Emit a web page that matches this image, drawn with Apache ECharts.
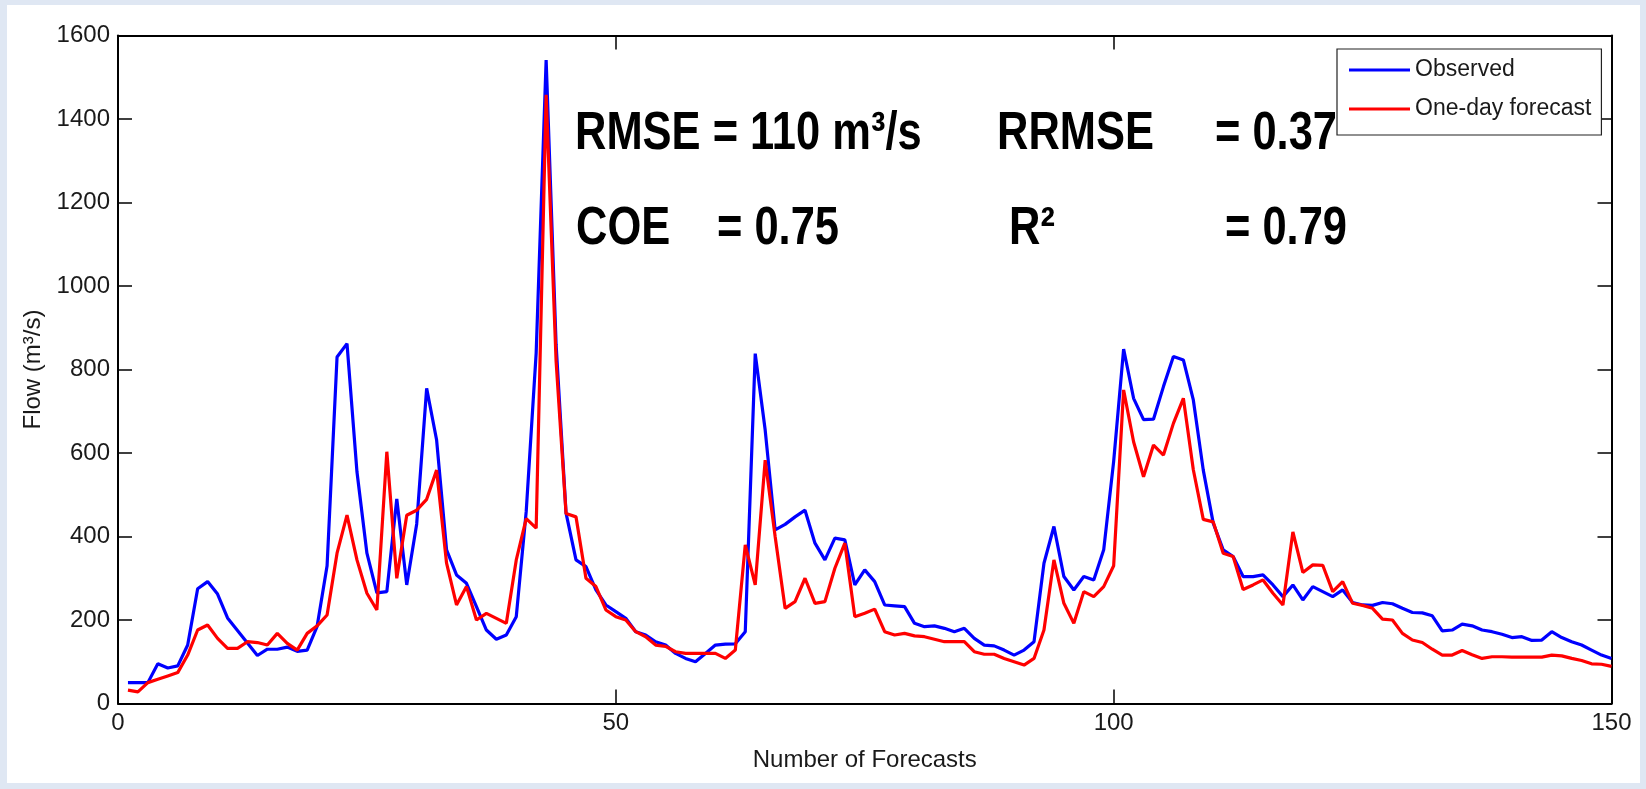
<!DOCTYPE html>
<html>
<head>
<meta charset="utf-8">
<script src="https://cdn.jsdelivr.net/npm/echarts@6/dist/echarts.min.js"></script>
<style>
html, body { margin: 0; padding: 0; width: 1646px; height: 789px; overflow: hidden; background: #dfe7f3; }
#chart { position: absolute; left: 7px; top: 5px; width: 1633px; height: 778px; background: #ffffff; }
</style>
</head>
<body>
<div id="chart"></div>
<script>
// ---- Data ----
const observed = [
  50, 50, 50, 95, 85, 90, 140, 275, 292, 262,
  205, 175, 145, 115, 130, 130, 135, 125, 128, 185,
  330, 830, 862, 555, 360, 265, 268, 490, 284, 430,
  755, 631, 368, 308, 288, 232, 176, 154, 164, 208,
  460, 840, 1541, 860, 456, 344, 328, 272, 236, 220,
  204, 172, 164, 148, 140, 120, 108, 100, 120, 140,
  142, 143, 172, 838, 655, 416, 429, 447, 463, 384,
  344, 396, 392, 284, 320, 292, 236, 234, 232, 192,
  184, 186, 180, 172, 180, 156, 140, 138, 128, 116,
  128, 148, 336, 424, 304, 272, 304, 296, 368, 580,
  849, 731, 680, 681, 759, 831, 823, 727, 559, 432,
  368, 352, 304, 304, 308, 284, 256, 284, 248, 280,
  268, 256, 272, 242, 236, 235, 242, 239, 228, 218,
  217, 210, 174, 176, 190, 186, 176, 172, 166, 158,
  160, 151, 152, 172, 158, 148, 140, 128, 116, 108
];
const forecast = [
  32, 28, 50, 58, 66, 74, 116, 176, 188, 156,
  132, 132, 148, 146, 140, 168, 144, 128, 168, 186,
  212, 360, 451, 344, 264, 224, 603, 300, 451, 463,
  489, 559, 336, 236, 280, 200, 216, 204, 192, 344,
  443, 420, 1458, 820, 455, 447, 300, 280, 224, 208,
  200, 172, 160, 140, 137, 124, 120, 120, 120, 120,
  108, 128, 380, 284, 583, 400, 228, 244, 300, 240,
  244, 324, 384, 208, 216, 226, 172, 164, 168, 162,
  160, 154, 148, 148, 148, 124, 118, 118, 108, 100,
  92, 108, 176, 344, 240, 192, 268, 256, 280, 330,
  751, 627, 543, 619, 595, 671, 731, 560, 441, 435,
  360, 352, 273, 284, 296, 264, 236, 411, 314, 332,
  331, 268, 292, 240, 235, 228, 202, 200, 168, 152,
  146, 130, 116, 116, 127, 117, 108, 112, 112, 111,
  111, 111, 111, 116, 114, 108, 103, 95, 94, 89
];
const seriesNames = ['Observed', 'One-day forecast'];
const xTicks = [0, 50, 100, 150];
const yTicks = [0, 200, 400, 600, 800, 1000, 1200, 1400, 1600];
const xTitle = 'Number of Forecasts';
const yTitle = 'Flow (m³/s)';
const statTexts = ['RMSE = 110 m³/s', 'RRMSE', '= 0.37', 'COE', '= 0.75', 'R²', '= 0.79'];

// ---- Layout / style ----
const FONT = '"Liberation Sans", Arial, Helvetica, sans-serif';
const statPos = [[568, 129], [990, 129], [1208, 129], [569, 224], [710, 224], [1002, 224], [1218, 224]];

const xMin = xTicks[0], xMax = xTicks[xTicks.length - 1], xInt = xTicks[1] - xTicks[0];
const yMin = yTicks[0], yMax = yTicks[yTicks.length - 1], yInt = yTicks[1] - yTicks[0];

function pairs(arr) { return arr.map((v, i) => [i + 1, v]); }
function plain(v) { return String(v); }

const axisLineStyle = { color: '#000', width: 2 };
const tickStyle = { color: '#000', width: 1.5 };
const labelStyle = { fontSize: 24, color: '#1a1a1a', fontFamily: FONT, formatter: plain };

const chart = echarts.init(document.getElementById('chart'), null, { renderer: 'canvas' });
chart.setOption({
  animation: false,
  backgroundColor: '#ffffff',
  grid: { left: 111, right: 28.5, top: 30.5, bottom: 79.5, containLabel: false, outerBoundsMode: 'none' },
  legend: {
    data: seriesNames,
    orient: 'vertical',
    left: 1330, top: 44,
    padding: [8, 10, 13, 12],
    itemGap: 13,
    icon: 'rect',
    itemWidth: 61, itemHeight: 3,
    backgroundColor: '#ffffff',
    borderColor: '#222', borderWidth: 1.2,
    selectedMode: false,
    textStyle: { fontSize: 23, color: '#1a1a1a', fontFamily: FONT, lineHeight: 26 }
  },
  xAxis: [
    {
      type: 'value', position: 'bottom', min: xMin, max: xMax, interval: xInt,
      axisLine: { show: true, onZero: false, lineStyle: axisLineStyle },
      axisTick: { show: true, inside: true, length: 14, lineStyle: tickStyle },
      axisLabel: Object.assign({ margin: 8, showMinLabel: true, showMaxLabel: true }, labelStyle),
      splitLine: { show: false },
      name: xTitle, nameLocation: 'middle', nameGap: 45,
      nameTextStyle: { fontSize: 24, color: '#1a1a1a', fontFamily: FONT }
    },
    {
      type: 'value', position: 'top', min: xMin, max: xMax, interval: xInt,
      axisLine: { show: true, onZero: false, lineStyle: axisLineStyle },
      axisTick: { show: true, inside: true, length: 14, lineStyle: tickStyle },
      axisLabel: { show: false }, splitLine: { show: false }
    }
  ],
  yAxis: [
    {
      type: 'value', position: 'left', min: yMin, max: yMax, interval: yInt,
      axisLine: { show: true, onZero: false, lineStyle: axisLineStyle },
      axisTick: { show: true, inside: true, length: 14, lineStyle: tickStyle },
      axisLabel: Object.assign({ margin: 8, showMinLabel: true, showMaxLabel: true }, labelStyle),
      splitLine: { show: false },
      name: yTitle, nameLocation: 'middle', nameGap: 57,
      nameTextStyle: { fontSize: 24, color: '#1a1a1a', fontFamily: FONT }
    },
    {
      type: 'value', position: 'right', min: yMin, max: yMax, interval: yInt,
      axisLine: { show: true, onZero: false, lineStyle: axisLineStyle },
      axisTick: { show: true, inside: true, length: 14, lineStyle: tickStyle },
      axisLabel: { show: false }, splitLine: { show: false }
    }
  ],
  series: [
    {
      name: seriesNames[0], type: 'line', xAxisIndex: 0, yAxisIndex: 0,
      data: pairs(observed), symbol: 'none', showSymbol: false, z: 3,
      lineStyle: { color: '#0000ff', width: 3.2 }, itemStyle: { color: '#0000ff' }
    },
    {
      name: seriesNames[1], type: 'line', xAxisIndex: 0, yAxisIndex: 0,
      data: pairs(forecast), symbol: 'none', showSymbol: false, z: 4,
      lineStyle: { color: '#ff0000', width: 3.2 }, itemStyle: { color: '#ff0000' }
    }
  ],
  graphic: {
    elements: statTexts.map((t, i) => ({
      type: 'text', x: statPos[i][0], y: statPos[i][1], scaleX: 0.82, z: 1, silent: true,
      style: { text: t, fontSize: 53, fontWeight: 'bold', fontFamily: FONT, fill: '#000', verticalAlign: 'middle', align: 'left' }
    }))
  }
});
</script>
</body>
</html>
